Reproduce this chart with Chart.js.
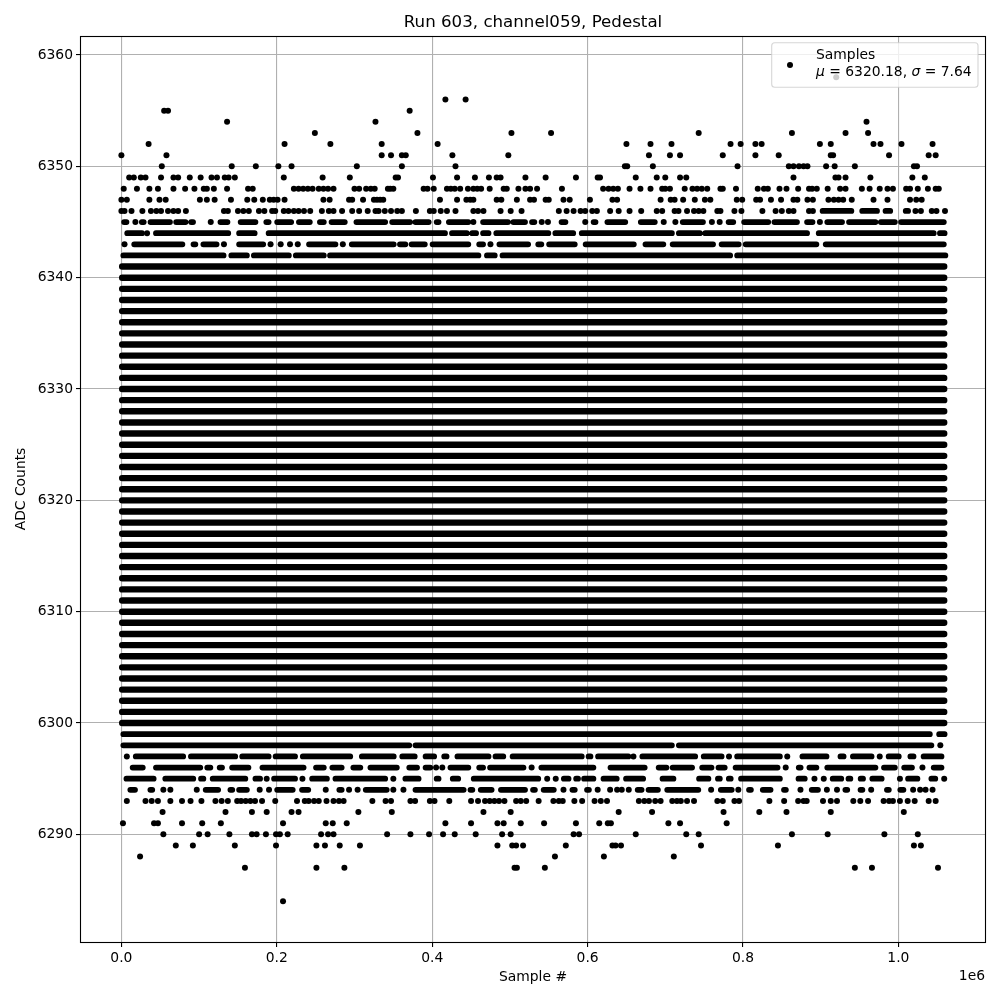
<!DOCTYPE html>
<html>
<head>
<meta charset="utf-8">
<style>html,body{margin:0;padding:0;background:#fff}canvas{display:block}</style>
<script src="https://cdn.jsdelivr.net/npm/chart.js@4/dist/chart.umd.min.js"></script>
</head>
<body>
<canvas id="c" width="1000" height="1000"></canvas>
<script>
// Sample numbers are given in thousands. A plain number is one isolated reading;
// a [from, to] pair is a stretch where readings at that ADC level overlap continuously.
// Stretch ends were read at the outer edge of the end dots, so they are pulled in by EDGE_INSET.
const SAMPLE_UNIT = 1000;
const EDGE_INSET = 2.5;
const chartTitle = "Run 603, channel059, Pedestal";
const xAxisTitle = "Sample #";
const yAxisTitle = "ADC Counts";
const xOffsetText = "1e6";
const legendName = "Samples";
const xTicks = [0, 200000, 400000, 600000, 800000, 1000000];
const yTicks = [6290, 6300, 6310, 6320, 6330, 6340, 6350, 6360];
const xRange = [-52000, 1111500];
const yRange = [6280.33, 6361.71];

const solidLevels = [6300,6301,6302,6303,6304,6305,6306,6307,6308,6309,6310,6311,6312,6313,6314,6315,6316,6317,6318,6319,6320,6321,6322,6323,6324,6325,6326,6327,6328,6329,6330,6331,6332,6333,6334,6335,6336,6337,6338,6339,6340,6341];
const solidSpan = [1, 1059];

const l6358 = [920];
const l6356 = [417,443];
const l6355 = [55,60,371];
const l6354 = [136,327,959];
const l6353 = [249,381,502,553,743,863,932,961];
const l6352 = [35,210,269,335,407,650,681,708,784,797,816,824,899,913,968,977,1004,1044];
const l6351 = [0,58,335,347,361,366,426,498,679,706,719,774,816,846,913,916,988,1039,1048];
const l6350 = [52,142,173,202,219,303,361,430,648,651,684,793,859,865,872,878,883,907,918,944,1020,1024];
const l6349 = [10,16,25,31,51,67,73,88,102,116,123,133,138,146,209,259,294,353,356,401,432,455,473,483,488,520,546,585,613,616,662,689,700,719,727,865,919,923,932,964,1018,1034];
const l6348 = [3,20,36,47,67,82,94,106,110,119,136,163,169,222,228,234,240,246,254,260,266,273,300,306,315,321,326,343,346,350,389,394,402,419,424,429,436,446,453,458,463,474,492,496,511,520,526,535,567,620,627,633,639,654,668,681,696,700,706,725,735,741,747,754,771,774,791,819,827,832,847,856,871,885,889,895,909,925,932,953,963,976,986,993,1010,1015,1025,1038,1048,1052];
const l6347 = [0,7,36,49,57,101,110,120,141,162,171,182,191,196,201,210,260,268,293,297,311,325,329,333,337,410,432,444,449,453,483,489,509,526,531,546,550,569,577,603,632,638,694,707,712,723,738,751,758,792,799,817,822,836,849,865,870,883,890,910,917,923,929,940,968,986,1015,1023,1030];
const l6346 = [0,4,13,27,38,45,51,60,67,73,83,132,137,150,157,164,177,184,194,198,209,215,222,228,235,243,258,267,273,284,297,306,317,327,331,339,347,355,361,379,397,402,411,419,430,453,459,466,488,501,515,563,573,582,591,597,606,612,629,640,654,669,689,696,712,717,728,737,743,749,767,771,789,798,825,842,850,859,865,885,890,[900,942],[951,975],[981,992],[1007,1015],1022,1029,1043,1049,1060];
const l6345 = [[1,9],18,[24,31],[35,65],[68,85],[88,94],115,[125,139],[151,175],[184,192],[198,221],[226,245],[253,263],[268,290],[300,342],[346,374],[376,398],[404,410],[419,449],453,[463,500],[502,522],[526,534],541,549,[564,574],597,[606,612],[623,651],[666,689],698,713,[720,751],760,770,[779,790],[799,835],[838,872],[880,892],899,[906,930],[934,973],[975,998],[1001,1061]];
const l6344 = [[5,29],33,[42,140],[149,174],[187,419],[423,447],[449,459],[463,475],[480,552],[556,584],[590,711],[715,747],[749,885],[895,1048],[1051,1062]];
const l6343 = [4,[14,81],[91,97],[103,125],132,[149,185],192,205,217,227,[239,278],285,[294,353],[356,368],[371,393],[398,449],[458,468],475,[484,526],[534,543],[548,586],[595,662],[672,700],[707,764],[770,797],[801,897],[904,1061]];
const l6342 = [[0,134],[139,164],[168,218],[222,263],[266,462],[468,483],[488,786],[790,1063]];
const l6299 = [[0,1043],[1050,1062]];
const l6298 = [[0,373],[376,711],[715,1045],1054];
const l6297 = [7,[16,82],[87,149],[153,192],[196,226],[231,297],[307,353],[359,380],[389,405],[413,421],[430,475],[479,494],[501,595],[599,606],[611,655],659,[668,704],[699,741],[747,775],782,[790,850],857,[874,910],[923,932],[939,968],976,[985,1003],[1013,1022],[1030,1058]];
const l6296 = [[12,30],[42,104],[108,117],[124,132],[140,166],[179,237],[248,263],[269,286],[296,310],[318,357],[368,383],[389,400],405,413,[421,449],[458,468],[472,520],528,[538,610],[627,676],[689,704],[707,737],[745,762],[766,779],[788,847],855,[870,876],[883,897],[906,973],[979,998],[1005,1020],1031,[1043,1058]];
const l6295 = [[4,44],[54,95],[100,108],[115,162],[170,181],187,[194,226],233,[243,267],[273,342],350,[363,385],[404,410],[424,436],[451,539],548,559,[567,578],[584,589],[593,610],[618,640],[647,674],[694,713],[741,758],[766,772],[780,786],[795,850],[869,882],892,904,[913,929],[934,940],[949,957],[964,981],1002,[1010,1027],[1040,1050],1059];
const l6294 = [[9,20],[35,42],54,63,97,[106,127],[138,145],[149,164],178,190,[198,223],[230,243],263,[278,286],293,304,[312,344],350,363,[376,443],[447,454],[460,479],[486,522],[528,534],[541,559],569,[578,586],[597,604],613,629,638,644,653,[662,672],[676,693],[700,745],759,[769,788],794,[806,812],[823,838],[851,857],874,[886,899],908,921,[930,936],[950,955],965,[985,988],[1000,1009],1019,1028,1035,1044];
const l6293 = [7,31,39,47,63,78,89,103,121,129,137,149,154,160,166,172,181,198,226,236,241,248,254,264,273,280,286,323,340,347,372,378,397,403,422,450,459,468,474,480,486,493,508,514,521,537,556,563,568,583,593,609,617,625,666,673,679,687,694,709,715,720,728,737,767,774,789,795,834,853,871,878,882,903,913,921,942,951,961,981,988,993,1002,1012,1021,1039,1048];
const l6292 = [53,134,168,187,219,228,305,348,466,501,640,683,775,821,856,913,1007];
const l6291 = [2,42,47,78,104,128,208,263,272,290,417,450,484,492,514,544,585,615,626,630,704,719,779];
const l6290 = [54,100,111,139,168,174,186,199,204,214,257,266,273,342,372,396,414,429,456,490,501,582,589,662,727,743,863,909,982,1025];
const l6289 = [70,92,146,199,251,262,281,307,484,503,508,517,572,632,636,643,746,845,1020,1029];
const l6288 = [24,558,621,711];
const l6287 = [159,251,287,506,509,545,944,966,1051];
const l6284 = [208];

const sparseLevels = [6358,6356,6355,6354,6353,6352,6351,6350,6349,6348,6347,6346,6345,6344,6343,6342,6299,6298,6297,6296,6295,6294,6293,6292,6291,6290,6289,6288,6287,6284];
const sparseSamples = [l6358,l6356,l6355,l6354,l6353,l6352,l6351,l6350,l6349,l6348,l6347,l6346,l6345,l6344,l6343,l6342,l6299,l6298,l6297,l6296,l6295,l6294,l6293,l6292,l6291,l6290,l6289,l6288,l6287,l6284];

const pointData = [];
const solidData = [];
const brokenData = [];
function addStretch(list, a, b, y) {
  list.push({x: a * SAMPLE_UNIT, y: y}, {x: b * SAMPLE_UNIT, y: y}, {x: null, y: null});
}
solidLevels.forEach(function (y) { addStretch(solidData, solidSpan[0], solidSpan[1], y); });
sparseLevels.forEach(function (y, i) {
  sparseSamples[i].forEach(function (s) {
    if (Array.isArray(s)) {
      if (s[1] - s[0] > 2 * EDGE_INSET + 2) addStretch(brokenData, s[0] + EDGE_INSET, s[1] - EDGE_INSET, y);
      else addStretch(brokenData, (s[0] + s[1]) / 2 - 1.2, (s[0] + s[1]) / 2 + 1.2, y);
    } else pointData.push({x: s * SAMPLE_UNIT, y: y});
  });
});

const FONT = "'DejaVu Sans'";
const TICK_PX = 13.89;

const frameAndLegend = {
  id: 'frameAndLegend',
  afterDatasetsDraw: function (chart) {
    const ctx = chart.ctx, a = chart.chartArea;
    ctx.save();
    ctx.strokeStyle = '#000'; ctx.lineWidth = 1.1;
    ctx.strokeRect(a.left - 0.5, a.top + 0.5, a.right - a.left + 1, a.bottom - a.top);

    // legend box
    const bx = 771.7, by = 42.7, bw = 206.3, bh = 44.6;
    ctx.beginPath(); ctx.roundRect(bx, by, bw, bh, 3);
    ctx.fillStyle = 'rgba(255,255,255,0.8)'; ctx.fill();
    ctx.strokeStyle = 'rgba(204,204,204,0.8)'; ctx.lineWidth = 1.1; ctx.stroke();
    ctx.fillStyle = '#000';
    ctx.beginPath(); ctx.arc(790, 65, 3, 0, Math.PI * 2); ctx.fill();
    ctx.textBaseline = 'alphabetic'; ctx.textAlign = 'left';
    const plain = TICK_PX + "px " + FONT, ital = "italic " + TICK_PX + "px " + FONT;
    ctx.font = plain; ctx.fillText(legendName, 816, 58.7);
    let x = 816;
    [["\u03BC", ital], [" = 6320.18, ", plain], ["\u03C3", ital], [" = 7.64", plain]].forEach(function (p) {
      ctx.font = p[1]; ctx.fillText(p[0], x, 76.3); x += ctx.measureText(p[0]).width;
    });

    // axis offset text
    ctx.font = plain; ctx.textAlign = 'right';
    ctx.fillText(xOffsetText, 985, 980);
    ctx.restore();
  }
};

new Chart(document.getElementById('c'), {
  type: 'scatter',
  data: {
    datasets: [
      {
        label: legendName, data: pointData, showLine: false,
        pointRadius: 3, pointHoverRadius: 3, pointBorderWidth: 0,
        pointBackgroundColor: '#000', borderColor: '#000', backgroundColor: '#000'
      },
      {
        label: legendName + ' (continuous levels)', data: solidData, showLine: true, spanGaps: false,
        pointRadius: 0, borderColor: '#000', borderWidth: 6.4, borderCapStyle: 'round', tension: 0
      },
      {
        label: legendName + ' (broken levels)', data: brokenData, showLine: true, spanGaps: false,
        pointRadius: 0, borderColor: '#000', borderWidth: 5.8, borderCapStyle: 'round', tension: 0
      }
    ]
  },
  plugins: [frameAndLegend],
  options: {
    responsive: false,
    animation: false,
    events: [],
    layout: {padding: {left: 0, right: 15, top: 0, bottom: 0}},
    plugins: {
      legend: {display: false},
      tooltip: {enabled: false},
      title: {
        display: true, text: chartTitle, fullSize: false, color: '#000',
        font: {family: FONT, size: 16.67, weight: 'normal', lineHeight: 1.2},
        padding: {top: 13, bottom: 3}
      }
    },
    scales: {
      x: {
        type: 'linear', min: xRange[0], max: xRange[1],
        afterBuildTicks: function (s) { s.ticks = xTicks.map(function (v) { return {value: v}; }); },
        afterFit: function (s) { s.height = 58; },
        ticks: {
          color: '#000', font: {family: FONT, size: TICK_PX}, padding: 3, maxRotation: 0, autoSkip: false,
          callback: function (v) { return (v / 1e6).toFixed(1); }
        },
        grid: {color: '#b0b0b0', lineWidth: 1.1, tickColor: '#000', tickLength: 5, tickWidth: 1.1},
        border: {display: false},
        title: {display: true, text: xAxisTitle, color: '#000', font: {family: FONT, size: TICK_PX, lineHeight: 1.2}, padding: {top: 0, bottom: 14}}
      },
      y: {
        type: 'linear', min: yRange[0], max: yRange[1],
        afterBuildTicks: function (s) { s.ticks = yTicks.map(function (v) { return {value: v}; }); },
        afterFit: function (s) { s.width = 81; },
        ticks: {
          color: '#000', font: {family: FONT, size: TICK_PX}, padding: 3, autoSkip: false,
          callback: function (v) { return String(v); }
        },
        grid: {color: '#b0b0b0', lineWidth: 1.1, tickColor: '#000', tickLength: 5, tickWidth: 1.1},
        border: {display: false},
        title: {display: true, text: yAxisTitle, color: '#000', font: {family: FONT, size: TICK_PX, lineHeight: 1.2}, padding: {top: 12.7, bottom: 0}}
      }
    }
  }
});
</script>
</body>
</html>
